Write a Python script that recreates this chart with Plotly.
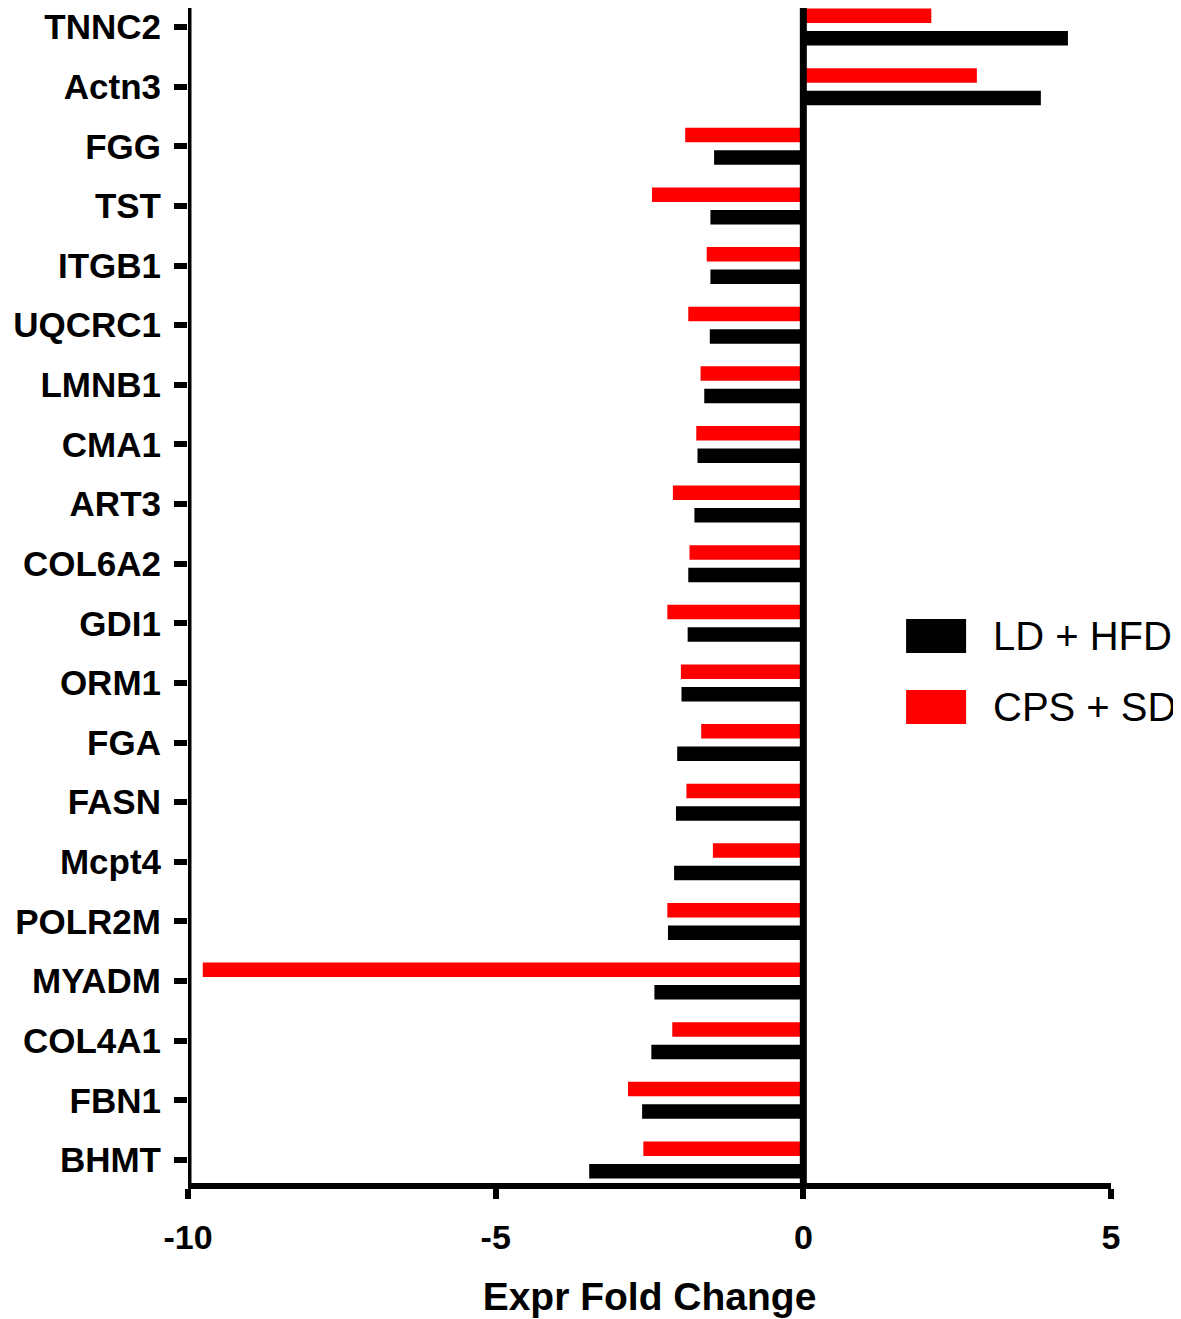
import plotly.graph_objects as go

# genes listed top to bottom as in the figure
genes = ["TNNC2", "Actn3", "FGG", "TST", "ITGB1", "UQCRC1", "LMNB1", "CMA1", "ART3", "COL6A2",
         "GDI1", "ORM1", "FGA", "FASN", "Mcpt4", "POLR2M", "MYADM", "COL4A1", "FBN1", "BHMT"]
ld_hfd = [4.30, 3.86, -1.45, -1.51, -1.51, -1.52, -1.61, -1.72, -1.77, -1.87,
          -1.88, -1.98, -2.05, -2.07, -2.10, -2.20, -2.42, -2.47, -2.62, -3.48]
cps_sd = [2.08, 2.82, -1.92, -2.46, -1.57, -1.87, -1.67, -1.74, -2.12, -1.85,
          -2.21, -1.99, -1.66, -1.90, -1.47, -2.21, -9.76, -2.13, -2.85, -2.60]
series_names = ["LD + HFD", "CPS + SD"]
series_colors = ["#000000", "#FF0000"]
x_ticks = [-10, -5, 0, 5]
x_tick_labels = ["-10", "-5", "0", "5"]

font = "Liberation Sans, Arial, sans-serif"

fig = go.Figure()
for name, vals, color in zip(series_names, [ld_hfd, cps_sd], series_colors):
    fig.add_trace(go.Bar(
        x=vals,
        y=genes,
        name=name,
        orientation="h",
        marker=dict(color=color, line=dict(width=0)),
        showlegend=False
    ))

# hand-made legend (big swatches like the original)
legend_rows = [(0.4655, series_names[0], series_colors[0]), (0.4051, series_names[1], series_colors[1])]
for yc, name, color in legend_rows:
    fig.add_shape(type="rect", xref="paper", yref="paper",
                  x0=0.778, x1=0.843, y0=yc - 0.0145, y1=yc + 0.0145,
                  fillcolor=color, line=dict(width=0))
    fig.add_annotation(xref="paper", yref="paper", x=0.870, y=yc, text=name,
                       showarrow=False, xanchor="left", yanchor="middle",
                       font=dict(family=font, size=40, color="black"))

# y axis line and zero line
fig.add_shape(type="line", xref="x", yref="paper", x0=-10, x1=-10, y0=0, y1=1,
              line=dict(color="black", width=7), layer="above")
fig.add_shape(type="line", xref="x", yref="paper", x0=0, x1=0, y0=0, y1=1,
              line=dict(color="black", width=7), layer="above")

# page body adds an 8px margin, so the figure is 8px smaller
fig.update_layout(
    width=1173, height=1311,
    margin=dict(l=180, r=70, t=0, b=136),
    plot_bgcolor="white", paper_bgcolor="white",
    barmode="group", bargap=0.245, bargroupgap=0.356,
    font=dict(family=font, color="black"),
    xaxis=dict(
        range=[-10, 5], tickvals=x_ticks, ticktext=x_tick_labels,
        showgrid=False, zeroline=False, automargin=False,
        showline=True, linewidth=6, linecolor="black",
        ticks="outside", ticklen=10, tickwidth=6, tickcolor="black",
        ticklabelstandoff=9,
        tickfont=dict(family=font, size=34, weight="bold", color="black"),
        title=dict(text="Expr Fold Change", standoff=30,
                   font=dict(family=font, size=39, weight="bold", color="black"))
    ),
    yaxis=dict(
        categoryorder="array", categoryarray=genes[::-1],
        range=[-0.386, 19.319], showgrid=False, zeroline=False, showline=False,
        automargin=False,
        ticks="outside", ticklen=13, tickwidth=6, tickcolor="black",
        ticklabelstandoff=6,
        tickfont=dict(family=font, size=35, weight="bold", color="black")
    )
)

fig.write_html("out.html")
